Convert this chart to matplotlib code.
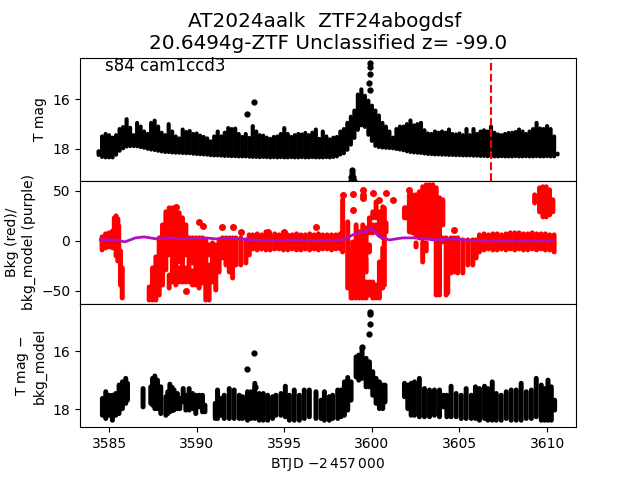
#! /usr/bin/env python3

import matplotlib
matplotlib.use('Agg')
import matplotlib.pyplot as plt

# => Top panel, extent of the dense light curve
band_t = [3584.4, 3584.6, 3584.8, 3585.0, 3585.2, 3585.4, 3585.6, 3585.8, 3586.0, 3586.2, 3586.4, 3586.6,
          3586.8, 3587.0, 3587.2, 3587.4, 3587.6, 3587.8, 3588.0, 3588.2, 3588.4, 3588.6, 3588.8, 3589.0,
          3589.2, 3589.4, 3589.6, 3589.8, 3590.0, 3590.2, 3590.4, 3590.6, 3590.8, 3591.0, 3591.2, 3591.4,
          3591.6, 3591.8, 3592.0, 3592.2, 3592.4, 3592.6, 3592.8, 3593.0, 3593.2, 3593.4, 3593.6, 3593.8,
          3594.0, 3594.2, 3594.4, 3594.6, 3594.8, 3595.0, 3595.2, 3595.4, 3595.6, 3595.8, 3596.0, 3596.2,
          3596.4, 3596.6, 3596.8, 3597.0, 3597.2, 3597.4, 3597.6, 3597.8, 3598.0, 3598.2, 3598.4, 3598.6,
          3598.8, 3599.0, 3599.2, 3599.4, 3599.6, 3599.8, 3600.0, 3600.2, 3600.4, 3600.6, 3600.8, 3601.0,
          3601.2, 3601.4, 3601.6, 3601.8, 3602.0, 3602.2, 3602.4, 3602.6, 3602.8, 3603.0, 3603.2, 3603.4,
          3603.6, 3603.8, 3604.0, 3604.2, 3604.4, 3604.6, 3604.8, 3605.0, 3605.2, 3605.4, 3605.6, 3605.8,
          3606.0, 3606.2, 3606.4, 3606.6, 3606.8, 3607.0, 3607.2, 3607.4, 3607.6, 3607.8, 3608.0, 3608.2,
          3608.4, 3608.6, 3608.8, 3609.0, 3609.2, 3609.4, 3609.6, 3609.8, 3610.0, 3610.2, 3610.4, 3610.6]
band_top = [18.1, 17.5, 17.4, 17.45, 17.55, 17.45, 17.2, 17.12, 16.8, 17.15, 17.45, 16.95,
            17.1, 17.3, 17.4, 16.95, 16.86, 17.1, 17.35, 17.45, 17.0, 17.3, 17.5, 17.58,
            17.22, 17.32, 17.28, 17.4, 17.38, 17.47, 17.52, 17.58, 17.7, 17.5, 17.3, 17.5,
            17.35, 17.16, 17.2, 17.18, 17.4, 17.52, 17.4, 17.56, 17.08, 17.3, 17.45, 17.47,
            17.55, 17.6, 17.52, 17.5, 17.4, 17.16, 17.4, 17.52, 17.45, 17.4, 17.42, 17.36,
            17.45, 17.35, 17.22, 17.6, 17.3, 17.5, 17.62, 17.55, 17.52, 17.3, 17.2, 16.95,
            16.7, 16.45, 15.8, 15.59, 15.85, 16.05, 16.25, 16.45, 16.65, 16.95, 17.1, 17.3,
            17.55, 17.2, 17.1, 17.1, 17.0, 16.85, 17.05, 17.0, 16.95, 17.25, 17.38, 17.4,
            17.3, 17.35, 17.3, 17.35, 17.22, 17.4, 17.42, 17.38, 17.45, 17.2, 17.45, 17.2,
            17.4, 17.3, 17.25, 17.3, 17.1, 17.35, 17.42, 17.45, 17.4, 17.36, 17.35, 17.32,
            17.22, 17.3, 17.4, 17.3, 17.2, 16.95, 17.18, 17.2, 17.08, 17.2, 17.5, 18.2]
band_low = [18.25, 18.33, 18.35, 18.35, 18.35, 18.24, 18.08, 17.98, 17.91, 17.89, 17.89, 17.9,
            17.93, 17.96, 18.0, 18.03, 18.05, 18.08, 18.11, 18.13, 18.13, 18.15, 18.16, 18.16,
            18.17, 18.18, 18.18, 18.2, 18.21, 18.22, 18.23, 18.24, 18.26, 18.27, 18.27, 18.28,
            18.29, 18.29, 18.3, 18.3, 18.31, 18.31, 18.31, 18.32, 18.33, 18.33, 18.34, 18.33,
            18.34, 18.35, 18.34, 18.35, 18.34, 18.35, 18.35, 18.34, 18.35, 18.35, 18.34, 18.35,
            18.35, 18.34, 18.35, 18.35, 18.35, 18.34, 18.35, 18.33, 18.31, 18.23, 18.18, 18.04,
            17.83, 17.56, 17.23, 17.05, 17.11, 17.43, 17.68, 17.88, 17.93, 17.95, 17.96, 17.97,
            17.98, 18.01, 18.03, 18.06, 18.1, 18.13, 18.15, 18.16, 18.17, 18.19, 18.21, 18.22,
            18.23, 18.23, 18.24, 18.24, 18.25, 18.25, 18.26, 18.26, 18.27, 18.27, 18.27, 18.28,
            18.28, 18.29, 18.29, 18.3, 18.3, 18.31, 18.31, 18.3, 18.31, 18.31, 18.31, 18.3,
            18.31, 18.31, 18.3, 18.31, 18.31, 18.3, 18.31, 18.31, 18.3, 18.31, 18.31, 18.23]

# => Top panel, single points
spot_t = [3592.9, 3593.25, 3599.87, 3599.87, 3599.87, 3599.85, 3599.87]
spot_mag = [16.58, 16.1, 14.5, 14.7, 14.98, 15.32, 15.6]
faint_t = [3598.88, 3598.88, 3598.82, 3598.94, 3598.78, 3598.98, 3598.86, 3598.92]
faint_mag = [18.85, 19.0, 19.15, 19.15, 19.3, 19.3, 19.3, 19.3]
peak_t = 3606.77

# => Middle panel, background columns (a column can have several pieces)
red_t = [3584.6, 3584.8, 3585.0, 3585.2, 3585.3, 3585.4, 3585.5, 3585.55, 3585.65, 3585.75,
         3587.29, 3587.48, 3587.67, 3587.86, 3588.05, 3588.24,
         3588.43, 3588.43, 3588.62, 3588.62, 3588.81, 3588.81, 3589.0, 3589.0,
         3589.19, 3589.19, 3589.38, 3589.38, 3589.57, 3589.57, 3589.76, 3589.76,
         3589.95, 3590.14, 3590.33, 3590.33, 3590.52, 3590.71, 3590.71, 3590.9, 3591.09,
         3591.28, 3591.47, 3591.67, 3591.86, 3592.05, 3592.24, 3592.52, 3592.81, 3593.0,
         3593.2, 3593.45, 3593.7, 3593.95, 3594.2, 3594.45, 3594.7, 3594.95, 3595.2, 3595.45, 3595.7,
         3595.95, 3596.2, 3596.45, 3596.7, 3596.95, 3597.2, 3597.45, 3597.7, 3597.95, 3598.2,
         3598.33, 3598.62, 3598.81, 3598.9, 3599.1, 3599.29,
         3599.48, 3599.48, 3599.48, 3599.67, 3599.67, 3599.67, 3599.86, 3599.86, 3599.86,
         3600.05, 3600.05, 3600.05, 3600.24, 3600.24, 3600.24, 3600.43, 3600.43,
         3600.62, 3600.62, 3600.71, 3600.81,
         3601.86, 3601.95, 3602.14, 3602.33, 3602.52, 3602.52, 3602.71, 3602.9, 3602.9, 3603.1, 3603.1,
         3603.29, 3603.48, 3603.67, 3603.67, 3603.86, 3603.86, 3604.05, 3604.05, 3604.24, 3604.33,
         3604.52, 3604.71, 3604.9, 3605.19, 3605.48, 3605.76, 3605.95, 3606.14,
         3606.4, 3606.65, 3606.9, 3607.15, 3607.4, 3607.65, 3607.9, 3608.15, 3608.4,
         3608.65, 3608.9, 3609.15, 3609.4, 3609.65, 3609.9, 3610.15, 3610.4,
         3609.29, 3609.57, 3609.76, 3609.95, 3610.14, 3610.33]
red_hi = [4, 7, 8, 10, 23, 25, 22, 15, -10, -27,
          -46, -27, -16, 3, 16, 29,
          33, -34, 33, -17, 33, -19, 28, -27,
          23, -24, 16, -27, 3, -27, 3, -30,
          3, 3, 3, -37, 1, -4, -24, -2, -4,
          1, 3, 3, 3, 3, 3, 3, 1, 6,
          6, 7, 6, 9, 6, 7, 6, 8, 6, 6, 7,
          6, 6, 7, 6, 7, 6, 6, 6, 6, 7,
          41, 19, -12, -1, 16, 9,
          16, -17, -47, 13, -17, -41, 23, -4, -41,
          29, 16, -41, 39, 16, -44, 29, -21,
          34, -7, 33, 18,
          33, 33, 46, 46, 46, -2, 49, 54, -1, 56, -2,
          56, 56, 53, -1, 43, -1, 41, 3, 3, 1,
          3, 3, 3, 1, 1, 1, 1, 6,
          7, 6, 7, 7, 6, 7, 8, 8, 8,
          7, 7, 8, 7, 7, 7, 6, 6,
          46, 53, 54, 54, 51, 41]
red_lo = [-9, -7, -6, -7, -7, -15, -20, -20, -44, -57,
          -59, -59, -59, -54, -44, -29,
          -14, -47, -14, -41, -17, -44, -21, -41,
          -22, -41, -14, -41, -24, -41, -22, -44,
          -44, -47, -34, -42, -59, -14, -59, -41, -49,
          -31, -17, -24, -31, -37, -24, -24, -22, -14,
          -8, -9, -8, -9, -9, -8, -8, -9, -9, -8, -9,
          -9, -8, -9, -8, -9, -8, -8, -9, -8, -8,
          -11, -47, -57, -57, -57, -57,
          -14, -44, -57, -14, -31, -57, 8, -11, -54,
          23, 8, -57, 23, 9, -57, 6, -57,
          3, -47, -44, 9,
          23, 23, 9, 8, 4, -6, 3, 3, -21, 3, -10,
          4, 3, 3, -54, 3, -54, 16, -1, -54, -52,
          -32, -31, -32, -32, -24, -24, -17, -11,
          -9, -8, -9, -9, -8, -9, -8, -9, -8,
          -9, -9, -8, -9, -8, -9, -9, -11,
          38, 29, 24, 24, 26, 29]

# => Middle panel, single background points
red_spot_t = [3588.81, 3589.38, 3590.14, 3590.37, 3591.44, 3592.05, 3592.52, 3594.05, 3595.0, 3596.81,
              3598.33, 3598.9, 3598.9, 3599.48, 3599.48, 3599.48, 3600.05, 3600.43, 3600.81, 3601.19,
              3602.14, 3604.71]
red_spot_y = [34, -50, 19, 15, 14, 14, 9, 9, 9, 14,
              46, 47, 31, 51, 46, 43, 48, 41, 48, 41,
              51, 11]

# => Middle panel, background model
model_t = [3584.5, 3585.4, 3585.9, 3586.5, 3587.0, 3587.7, 3588.4, 3589.4, 3590.5, 3591.1, 3591.9, 3593.0,
           3594.5, 3595.5, 3597.0, 3598.33, 3598.62, 3598.9, 3599.38, 3599.67, 3599.95, 3600.14, 3600.43,
           3601.0, 3601.76, 3602.52, 3603.1, 3603.48, 3604.62, 3606.14, 3608.43, 3610.33]
model_y = [1, 1, -1, 3, 4, 2, 3, 2, 3, 2, 3, 1,
           0, 1, 0, 1, 3, 6, 9, 9, 13, 9, 4,
           1, 3, 3, 2, 1, 2, 0, 0, 0]

# => Bottom panel, extent of the background subtracted light curve
sub_t = [3584.62, 3584.81, 3585.0, 3585.19, 3585.38, 3585.57, 3585.76, 3585.95, 3586.05,
         3586.94,
         3587.38, 3587.48, 3587.61, 3587.76, 3587.95,
         3588.24, 3588.35, 3588.47, 3588.6, 3588.71, 3588.9, 3589.04,
         3589.23, 3589.38, 3589.57, 3589.76, 3589.95, 3590.14, 3590.33, 3590.47,
         3591.06, 3591.19, 3591.38, 3591.57, 3591.86, 3592.14, 3592.43, 3592.62, 3592.9, 3593.1, 3593.32,
         3593.57, 3593.8, 3594.05, 3594.33, 3594.52, 3594.81, 3595.06, 3595.29, 3595.57, 3595.86,
         3596.14, 3596.43, 3596.81, 3597.1, 3597.29, 3597.57, 3597.76, 3598.05, 3598.24, 3598.43,
         3598.62, 3598.81,
         3599.1, 3599.25, 3599.44, 3599.67, 3599.86, 3600.05, 3600.24, 3600.43, 3600.62, 3600.75,
         3601.86, 3602.05, 3602.24, 3602.43, 3602.71, 3603.0, 3603.29, 3603.57, 3603.86, 3604.09,
         3604.28, 3604.52, 3604.81, 3605.1, 3605.38, 3605.67, 3605.91, 3606.14, 3606.43, 3606.62,
         3606.87, 3607.1, 3607.38, 3607.67, 3607.95, 3608.24, 3608.52, 3608.81, 3609.1, 3609.38,
         3609.67, 3609.86, 3610.05, 3610.24, 3610.43]
sub_top = [17.63, 17.4, 17.52, 17.52, 17.46, 17.17, 17.06, 16.94, 17.11,
           17.29,
           17.23, 16.94, 16.86, 17.0, 17.23,
           17.57, 17.4, 17.14, 17.25, 17.34, 17.46, 17.63,
           17.29, 17.52, 17.29, 17.46, 17.52, 17.52, 17.52, 17.86,
           17.8, 17.34, 17.63, 17.52, 17.29, 17.34, 17.52, 17.57, 17.4, 17.4, 17.11,
           17.46, 17.46, 17.52, 17.57, 17.52, 17.46, 17.21, 17.52, 17.34, 17.52,
           17.34, 17.34, 17.4, 17.69, 17.4, 17.57, 17.52, 17.34, 17.34, 17.06,
           16.91, 17.06,
           16.2, 16.14, 15.9, 16.25, 16.37, 16.71, 16.94, 17.06, 17.17, 17.17,
           17.11, 17.17, 17.11, 17.06, 16.94, 17.29, 17.34, 17.34, 17.34, 17.52,
           17.52, 17.21, 17.46, 17.52, 17.29, 17.52, 17.23, 17.29, 17.21, 17.29,
           17.06, 17.46, 17.52, 17.4, 17.34, 17.34, 17.11, 17.4, 17.34, 16.94,
           17.17, 17.29, 17.0, 17.23, 17.69]
sub_low = [18.21, 18.32, 18.21, 18.38, 18.21, 18.15, 17.98, 17.8, 17.69,
           17.92,
           17.8, 17.86, 17.98, 17.98, 18.15,
           18.21, 18.15, 18.09, 18.05, 18.03, 17.98, 17.98,
           17.75, 18.03, 18.03, 17.98, 18.15, 17.92, 18.09, 18.09,
           18.32, 18.32, 18.21, 18.32, 18.32, 18.32, 18.32, 18.32, 18.38, 18.32, 18.32,
           18.38, 18.38, 18.38, 18.32, 18.21, 18.21, 18.26, 18.38, 18.38, 18.38,
           18.32, 18.26, 18.32, 18.32, 18.38, 18.38, 18.32, 18.32, 18.26, 18.21,
           18.03, 17.69,
           16.89, 17.0, 16.94, 17.23, 17.23, 17.52, 17.8, 17.98, 17.98, 17.75,
           17.57, 17.98, 18.21, 18.21, 18.26, 18.26, 18.26, 18.21, 18.26, 17.92,
           18.26, 18.26, 18.26, 18.32, 18.32, 18.32, 18.32, 18.38, 18.32, 18.38,
           18.38, 18.38, 18.38, 18.32, 18.38, 18.38, 18.38, 18.32, 18.32, 18.26,
           18.38, 18.38, 18.38, 18.38, 18.03]

# => Bottom panel, single points
sub_spot_t = [3592.9, 3593.25, 3593.32, 3599.9, 3599.9, 3599.9, 3599.82, 3599.44]
sub_spot_mag = [16.63, 16.08, 17.25, 14.64, 14.74, 15.08, 15.41, 15.85]

labels = ['T mag', 'Bkg (red)/\nbkg_model (purple)', 'T mag $-$\nbkg_model']


def draw_columns(ax, t, hi, lo, color, lw):
    lc = ax.vlines(t, hi, lo, colors=color, linewidths=lw, capstyle='round')
    # snapping leaves white gaps between neighbouring columns
    lc.set_snap(False)


fig, axs = plt.subplots(3, 1, sharex=True, figsize=(6.4, 4.8))
fig.subplots_adjust(hspace=0)

# Top
draw_columns(axs[0], band_t, band_top, band_low, 'k', 3.0)
axs[0].plot(spot_t, spot_mag, 'k.', ms=7)
axs[0].plot(faint_t, faint_mag, 'k.', ms=7)
axs[0].axvline(peak_t, color='r', ls='--')
axs[0].set_ylim(19.3, 14.3)
axs[0].set_yticks([16, 18])
axs[0].text(0.05, 0.935, 's84 cam1ccd3', transform=axs[0].transAxes, fontsize=12, va='center')
axs[0].set_title('AT2024aalk  ZTF24abogdsf \n20.6494g-ZTF Unclassified z= -99.0', fontsize=14.4)

# Middle
draw_columns(axs[1], red_t, red_hi, red_lo, 'r', 3.6)
axs[1].plot(red_spot_t, red_spot_y, 'r.', ms=8)
axs[1].plot(model_t, model_y, color='#b010c0', lw=2)
axs[1].set_ylim(-63, 60)
axs[1].set_yticks([-50, 0, 50])

# Bottom
draw_columns(axs[2], sub_t, sub_top, sub_low, 'k', 3.6)
axs[2].plot(sub_spot_t, sub_spot_mag, 'k.', ms=7)
axs[2].set_ylim(18.62, 14.38)
axs[2].set_yticks([16, 18])
axs[2].set_xlim(3583.34, 3611.65)
axs[2].set_xticks([3585, 3590, 3595, 3600, 3605, 3610])
axs[2].set_xlabel(r'BTJD $-2\,457\,000$')

for ax, label in zip(axs, labels):
    ax.set_ylabel(label)
for ax in axs[:2]:
    ax.tick_params(axis='x', bottom=False)

fig.savefig('out.png', dpi=100)
